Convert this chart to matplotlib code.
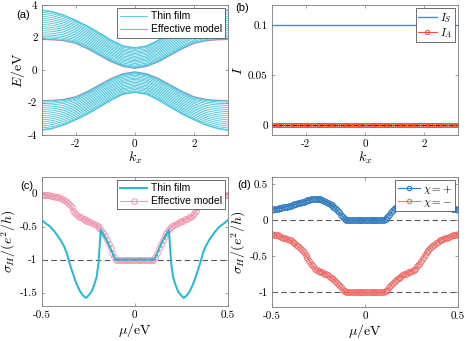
import numpy as np
import matplotlib.pyplot as plt

plt.rcParams['mathtext.fontset'] = 'cm'
plt.rcParams['axes.unicode_minus'] = False
plt.rcParams['font.family'] = ['Liberation Sans', 'DejaVu Sans']

# ---- (a) band structure, read for k >= 0 (picture is symmetric in k and in E)
k_half = [0, 0.4, 0.8, 1.2, 1.6, 2.0, 2.4, 2.8, np.pi]
film_bands = [
    [0.12, 0.24, 0.53, 0.93, 1.33, 1.66, 1.82, 1.89, 1.90],
    [0.17, 0.29, 0.58, 0.98, 1.39, 1.72, 1.88, 1.96, 1.97],
    [0.23, 0.35, 0.65, 1.05, 1.46, 1.79, 1.96, 2.05, 2.06],
    [0.31, 0.43, 0.73, 1.14, 1.54, 1.87, 2.06, 2.15, 2.17],
    [0.40, 0.52, 0.82, 1.23, 1.64, 1.97, 2.17, 2.27, 2.30],
    [0.49, 0.61, 0.92, 1.33, 1.73, 2.07, 2.28, 2.39, 2.43],
    [0.57, 0.69, 1.01, 1.42, 1.83, 2.17, 2.39, 2.51, 2.56],
    [0.66, 0.78, 1.10, 1.52, 1.93, 2.27, 2.50, 2.63, 2.68],
    [0.75, 0.87, 1.20, 1.62, 2.03, 2.37, 2.61, 2.76, 2.81],
    [0.84, 0.96, 1.29, 1.71, 2.12, 2.47, 2.72, 2.88, 2.94],
    [0.93, 1.05, 1.38, 1.81, 2.22, 2.57, 2.83, 3.00, 3.07],
    [1.02, 1.14, 1.47, 1.90, 2.32, 2.67, 2.94, 3.12, 3.19],
    [1.10, 1.22, 1.57, 2.00, 2.41, 2.77, 3.05, 3.24, 3.32],
    [1.19, 1.31, 1.66, 2.10, 2.51, 2.87, 3.16, 3.36, 3.45],
    [1.28, 1.40, 1.75, 2.19, 2.61, 2.97, 3.27, 3.48, 3.57],
    [1.34, 1.46, 1.82, 2.26, 2.68, 3.04, 3.35, 3.57, 3.67],
    [1.38, 1.50, 1.86, 2.30, 2.72, 3.08, 3.40, 3.62, 3.72],
]
eff_band = [0.10, 0.22, 0.51, 0.91, 1.31, 1.64, 1.80, 1.86, 1.88]

# ---- (b) symmetric / antisymmetric parts
kx_b = np.linspace(-np.pi, np.pi, 101)
I_S = [0.1] * 101
I_A = [0.0] * 101

# ---- (c) Hall conductivity, thin film vs effective model
mu_film = [-0.50, -0.48, -0.455, -0.43, -0.40, -0.38, -0.366, -0.348, -0.335, -0.321,
           -0.305, -0.294, -0.28, -0.262, -0.245, -0.232, -0.218, -0.205, -0.195, -0.183,
           -0.17, -0.155, -0.142, -0.125, -0.107, -0.10,
           0.10, 0.107, 0.125, 0.142, 0.155, 0.17, 0.183, 0.195, 0.205, 0.218,
           0.232, 0.245, 0.262, 0.28, 0.294, 0.305, 0.321, 0.335, 0.348, 0.366,
           0.38, 0.40, 0.43, 0.455, 0.48, 0.50]
sigma_film = [-0.40, -0.45, -0.50, -0.58, -0.70, -0.80, -0.90, -1.08, -1.19, -1.31,
              -1.42, -1.48, -1.54, -1.58, -1.53, -1.48, -1.38, -1.26, -1.05, -0.55,
              -0.62, -0.69, -0.76, -0.87, -0.99, -1.00,
              -1.00, -0.99, -0.87, -0.76, -0.69, -0.62, -0.55, -1.05, -1.26, -1.38,
              -1.48, -1.53, -1.58, -1.54, -1.48, -1.42, -1.31, -1.19, -1.08, -0.90,
              -0.80, -0.70, -0.58, -0.50, -0.45, -0.40]

mu = np.linspace(-0.5, 0.5, 101)
sigma_eff = [-0.02, -0.02, -0.03, -0.03, -0.03, -0.04, -0.04, -0.05, -0.05, -0.06,
             -0.07, -0.08, -0.10, -0.12, -0.14, -0.17, -0.21, -0.26, -0.30, -0.33,
             -0.35, -0.36, -0.38, -0.39, -0.41, -0.42, -0.43, -0.45, -0.46, -0.47,
             -0.49, -0.52, -0.55, -0.59, -0.64, -0.70, -0.76, -0.83, -0.90, -0.96,
             -1.00, -1.00, -1.00, -1.00, -1.00, -1.00, -1.00, -1.00, -1.00, -1.00,
             -1.00,
             -1.00, -1.00, -1.00, -1.00, -1.00, -1.00, -1.00, -1.00, -1.00, -1.00,
             -0.96, -0.90, -0.83, -0.76, -0.70, -0.64, -0.59, -0.55, -0.52, -0.49,
             -0.47, -0.46, -0.45, -0.43, -0.42, -0.41, -0.39, -0.38, -0.36, -0.35,
             -0.33, -0.30, -0.26, -0.21, -0.17, -0.14, -0.12, -0.10, -0.08, -0.07,
             -0.06, -0.05, -0.05, -0.04, -0.04, -0.03, -0.03, -0.03, -0.02, -0.02]

# ---- (d) chirality resolved
sigma_plus = [0.14, 0.15, 0.16, 0.16, 0.17, 0.17, 0.18, 0.18, 0.19, 0.20,
              0.20, 0.21, 0.22, 0.23, 0.24, 0.245, 0.25, 0.26, 0.27, 0.275,
              0.28, 0.29, 0.295, 0.30, 0.30, 0.295, 0.29, 0.28, 0.265, 0.25,
              0.24, 0.225, 0.21, 0.19, 0.165, 0.14, 0.11, 0.08, 0.05, 0.02,
              0.00, 0.00, 0.00, 0.00, 0.00, 0.00, 0.00, 0.00, 0.00, 0.00,
              0.00,
              0.00, 0.00, 0.00, 0.00, 0.00, 0.00, 0.00, 0.00, 0.00, 0.00,
              0.02, 0.05, 0.08, 0.11, 0.14, 0.165, 0.19, 0.21, 0.225, 0.24,
              0.25, 0.265, 0.28, 0.29, 0.295, 0.30, 0.30, 0.295, 0.29, 0.28,
              0.275, 0.27, 0.26, 0.25, 0.245, 0.24, 0.23, 0.22, 0.21, 0.20,
              0.20, 0.19, 0.18, 0.18, 0.17, 0.17, 0.16, 0.16, 0.15, 0.14]
sigma_minus = [-0.19, -0.20, -0.21, -0.21, -0.22, -0.23, -0.24, -0.25, -0.26, -0.27,
               -0.28, -0.30, -0.32, -0.34, -0.36, -0.38, -0.41, -0.44, -0.48, -0.52,
               -0.56, -0.60, -0.64, -0.67, -0.69, -0.70, -0.71, -0.72, -0.74, -0.75,
               -0.76, -0.78, -0.80, -0.82, -0.84, -0.87, -0.90, -0.93, -0.96, -0.98,
               -1.00, -1.00, -1.00, -1.00, -1.00, -1.00, -1.00, -1.00, -1.00, -1.00,
               -1.00,
               -1.00, -1.00, -1.00, -1.00, -1.00, -1.00, -1.00, -1.00, -1.00, -1.00,
               -0.98, -0.96, -0.93, -0.90, -0.87, -0.84, -0.82, -0.80, -0.78, -0.76,
               -0.75, -0.74, -0.72, -0.71, -0.70, -0.69, -0.67, -0.64, -0.60, -0.56,
               -0.52, -0.48, -0.44, -0.41, -0.38, -0.36, -0.34, -0.32, -0.30, -0.28,
               -0.27, -0.26, -0.25, -0.24, -0.23, -0.22, -0.21, -0.21, -0.20, -0.19]

cyan = '#22b8d4'
pink = '#f08fab'
axcol = '#7a7a7a'
tfmt = lambda v, p: '0' if abs(v) < 1e-12 else f'{v:g}'


def style(ax):
    for s in ax.spines.values():
        s.set_color(axcol)
        s.set_linewidth(0.6)
    ax.tick_params(direction='in', top=True, right=True, length=2.5, width=0.5,
                   color=axcol, labelsize=8, labelfontfamily='cmr10', pad=3)
    ax.xaxis.set_major_formatter(plt.FuncFormatter(tfmt))
    ax.yaxis.set_major_formatter(plt.FuncFormatter(tfmt))


def boxed_legend(ax, handles=None, labels=None, **kw):
    if handles is None:
        lg = ax.legend(loc='upper right', fancybox=False, edgecolor='#555555',
                       framealpha=1, borderaxespad=0.3, **kw)
    else:
        lg = ax.legend(handles, labels, loc='upper right', fancybox=False,
                       edgecolor='#555555', framealpha=1, borderaxespad=0.3, **kw)
    lg.get_frame().set_linewidth(0.6)
    return lg


fig = plt.figure(figsize=(4.69, 3.41), dpi=100)
ax_a = fig.add_axes([0.089, 0.604, 0.397, 0.381])
ax_b = fig.add_axes([0.580, 0.604, 0.397, 0.381])
ax_c = fig.add_axes([0.089, 0.103, 0.397, 0.378])
ax_d = fig.add_axes([0.580, 0.100, 0.397, 0.381])

# (a)
k_full = np.concatenate([-np.array(k_half)[::-1], np.array(k_half)[1:]])
e_eff = np.concatenate([np.array(eff_band)[::-1], np.array(eff_band)[1:]])
ax_a.plot(k_full, e_eff, color=pink, lw=0.8, label='Effective model', zorder=1)
ax_a.plot(k_full, -e_eff, color=pink, lw=0.8, zorder=1)
for i, band in enumerate(film_bands):
    e = np.concatenate([np.array(band)[::-1], np.array(band)[1:]])
    ax_a.plot(k_full, e, color=cyan, lw=0.6, alpha=0.85,
              label='Thin film' if i == 0 else None, zorder=2)
    ax_a.plot(k_full, -e, color=cyan, lw=0.6, alpha=0.85, zorder=2)
ax_a.set_xlim(-np.pi, np.pi)
ax_a.set_ylim(-4, 4)
ax_a.set_xticks([-2, 0, 2])
ax_a.set_yticks([-4, -2, 0, 2, 4])
ax_a.set_xlabel('$k_x$', fontsize=10, labelpad=1)
ax_a.set_ylabel(r'$E/\mathrm{eV}$', fontsize=10, labelpad=1)
h, l = ax_a.get_legend_handles_labels()
boxed_legend(ax_a, h[::-1], l[::-1], fontsize=7.5, borderpad=0.3, handlelength=2.6,
             handletextpad=0.3, labelspacing=0.3)
style(ax_a)

# (b)
ax_b.plot(kx_b, I_S, color='#4a8cc6', lw=1.0, label='$I_S$')
ax_b.plot(kx_b, I_A, color='#f2502a', lw=0.8, marker='o', ms=3, mfc='none',
          mew=0.7, label='$I_A$')
ax_b.axhline(0, color='#333333', lw=0.7, ls=(0, (4, 3)), zorder=5)
ax_b.set_xlim(-np.pi, np.pi)
ax_b.set_ylim(-0.01, 0.12)
ax_b.set_xticks([-2, 0, 2])
ax_b.set_yticks([0, 0.05, 0.1])
ax_b.set_xlabel('$k_x$', fontsize=10, labelpad=1)
ax_b.set_ylabel('$I$', fontsize=10, labelpad=2)
boxed_legend(ax_b, fontsize=8, borderpad=0.2, handlelength=1.7, handletextpad=0.3,
             labelspacing=0.1)
style(ax_b)

# (c)
ax_c.axhline(-1, color='#555555', lw=0.8, ls=(0, (5, 3)), zorder=1)
ax_c.plot(mu, sigma_eff, color=pink, lw=0.8, marker='o', ms=4, mfc='none',
          mew=0.7, alpha=0.9, label='Effective model', zorder=2)
ax_c.plot(mu_film, sigma_film, color=cyan, lw=1.4, label='Thin film', zorder=3)
ax_c.set_xlim(-0.5, 0.5)
ax_c.set_ylim(-1.7, 0.25)
ax_c.set_xticks([-0.5, 0, 0.5])
ax_c.set_yticks([-1.5, -1, -0.5, 0])
ax_c.set_xlabel(r'$\mu/\mathrm{eV}$', fontsize=10, labelpad=1)
ax_c.set_ylabel(r'$\sigma_H/(e^2/h)$', fontsize=10, labelpad=1)
h, l = ax_c.get_legend_handles_labels()
boxed_legend(ax_c, h[::-1], l[::-1], fontsize=7.5, borderpad=0.3, handlelength=2.6,
             handletextpad=0.3, labelspacing=0.3)
style(ax_c)

# (d)
ax_d.axhline(0, color='#555555', lw=0.8, ls=(0, (5, 3)), zorder=1)
ax_d.axhline(-1, color='#555555', lw=0.8, ls=(0, (5, 3)), zorder=1)
ax_d.plot(mu, sigma_plus, color='#2f7bbd', lw=0.8, marker='o', ms=4, mfc='none',
          mew=0.8, label=r'$\chi=+$', zorder=2)
ax_d.plot(mu, sigma_minus, color='#f0625e', lw=0.8, marker='o', ms=4, mfc='none',
          mew=0.8, alpha=0.85, label=r'$\chi=-$', zorder=2)
ax_d.set_xlim(-0.5, 0.5)
ax_d.set_ylim(-1.2, 0.6)
ax_d.set_xticks([-0.5, 0, 0.5])
ax_d.set_yticks([-1, -0.5, 0, 0.5])
ax_d.set_xlabel(r'$\mu/\mathrm{eV}$', fontsize=10, labelpad=1)
ax_d.set_ylabel(r'$\sigma_H/(e^2/h)$', fontsize=10, labelpad=1)
boxed_legend(ax_d, fontsize=8, borderpad=0.2, handlelength=2.0, handletextpad=0.3,
             labelspacing=0.1, markerscale=0.8)
style(ax_d)

fig.text(16 / 469, 1 - 15 / 341, '(a)', fontsize=8, va='center')
fig.text(235 / 469, 1 - 8 / 341, '(b)', fontsize=8, va='center')
fig.text(20 / 469, 1 - 186 / 341, '(c)', fontsize=8, va='center')
fig.text(237 / 469, 1 - 185 / 341, '(d)', fontsize=8, va='center')

fig.savefig('out.png', dpi=100)
